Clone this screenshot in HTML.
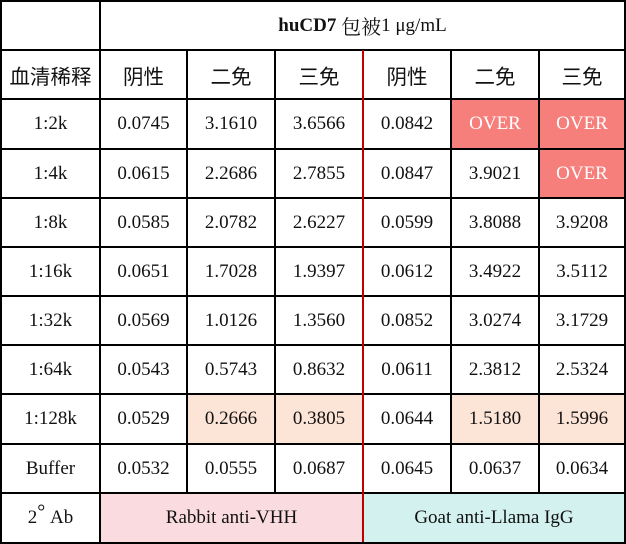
<!DOCTYPE html><html><head><style>
body{margin:0;width:626px;height:544px;background:#fff;position:relative;overflow:hidden;}
.c{position:absolute;display:flex;align-items:center;justify-content:center;font-size:19px;color:#111;box-sizing:border-box;font-family:"Liberation Serif","Times New Roman","Noto Serif CJK SC",serif;}
.h{position:absolute;background:#000;height:2px;}
.v{position:absolute;background:#000;width:2px;}
.c.cj{font-family:"Liberation Sans","Noto Sans CJK SC",sans-serif;font-size:20.5px;}
</style></head><body>
<div id="t"></div>
<script>
var X=[1,100,187,275,363,451,539,625];
var Y=[1,50,99,149,198,247,296,345,394,444,493,543];
var h='';
function cell(c0,c1,r,txt,bg,col,cls){
 h+='<div class="c '+(cls||'')+'" style="left:'+X[c0]+'px;top:'+Y[r]+'px;width:'+(X[c1]-X[c0])+'px;height:'+(Y[r+1]-Y[r])+'px;'+(bg?'background:'+bg+';':'')+(col?'color:'+col+';':'')+'">'+txt+'</div>';}
cell(1,7,0,'<b>huCD7</b>&nbsp;<span style="font-size:20px">包被</span>1 μg/mL');
cell(0,1,1,'血清稀释',0,0,'cj');
var hd=['阴性','二免','三免','阴性','二免','三免'];
for(var i=0;i<6;i++)cell(i+1,i+2,1,hd[i],0,0,'cj');
var rows=[['1:2k','0.0745','3.1610','3.6566','0.0842','OVER','OVER'],
['1:4k','0.0615','2.2686','2.7855','0.0847','3.9021','OVER'],
['1:8k','0.0585','2.0782','2.6227','0.0599','3.8088','3.9208'],
['1:16k','0.0651','1.7028','1.9397','0.0612','3.4922','3.5112'],
['1:32k','0.0569','1.0126','1.3560','0.0852','3.0274','3.1729'],
['1:64k','0.0543','0.5743','0.8632','0.0611','2.3812','2.5324'],
['1:128k','0.0529','0.2666','0.3805','0.0644','1.5180','1.5996'],
['Buffer','0.0532','0.0555','0.0687','0.0645','0.0637','0.0634']];
rows.forEach(function(r,ri){r.forEach(function(t,ci){
 var bg=0,col=0;
 if(t=='OVER'){bg='#f67e7b';col='#fff';}
 if(ri==6&&(ci==2||ci==3||ci==5||ci==6))bg='#fce4d6';
 cell(ci,ci+1,ri+2,t,bg,col);});});
cell(0,1,10,'2<span style="font-size:20px;position:relative;top:-6px">°</span>&nbsp;Ab');
cell(1,4,10,'Rabbit anti-VHH','#f9dbe0');
cell(4,7,10,'Goat anti-Llama IgG','#d3f1ee');
Y.forEach(function(y){h+='<div class="h" style="left:0;width:626px;top:'+(y-1)+'px"></div>';});
[2,3,5,6].forEach(function(i){h+='<div class="v" style="left:'+(X[i]-1)+'px;top:49px;height:'+(493-49)+'px"></div>';});
h+='<div class="v" style="left:99px;top:0;height:544px"></div>';
h+='<div class="v" style="left:0;top:0;height:544px"></div><div class="v" style="left:624px;top:0;height:544px"></div>';
h+='<div class="v" style="left:362px;top:50px;height:494px;background:#c00000"></div>';
h+='<div class="h" style="left:0;width:626px;top:542px"></div>';
document.getElementById('t').innerHTML=h;
</script>
</body></html>
